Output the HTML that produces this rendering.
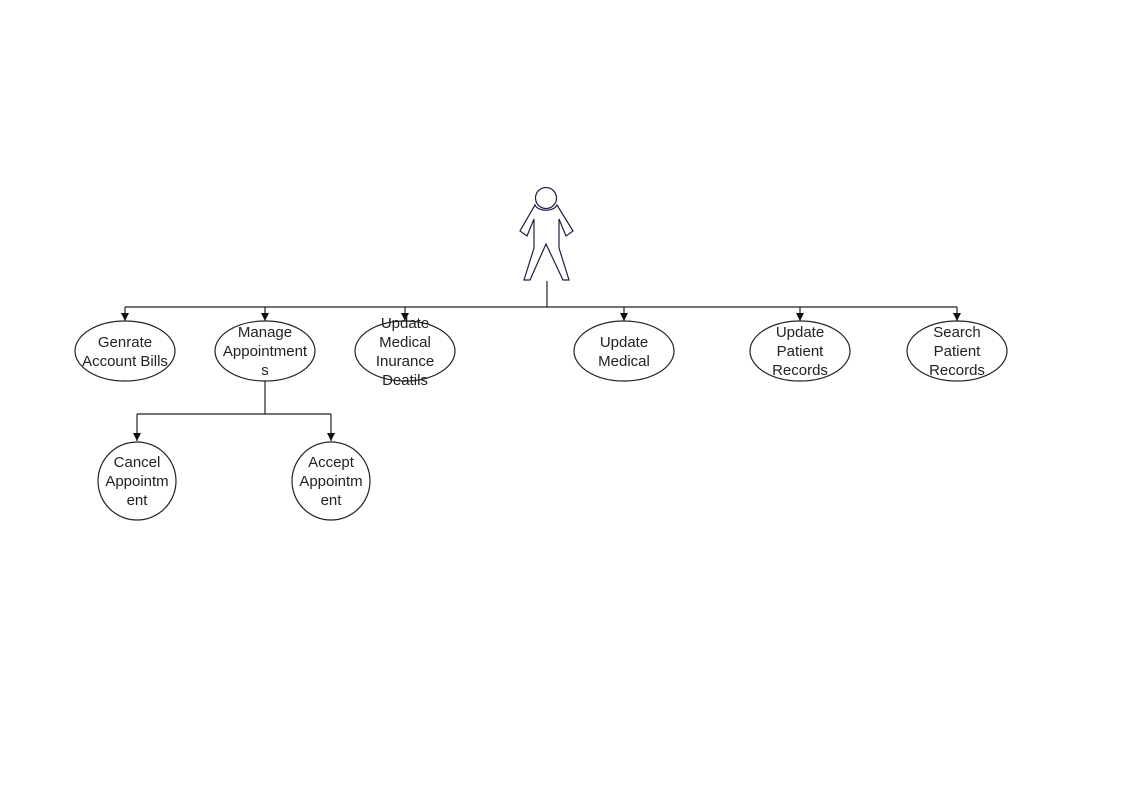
<!DOCTYPE html>
<html><head><meta charset="utf-8"><style>
html,body{margin:0;padding:0;background:#fff;}
svg{display:block;}
text{font-family:"Liberation Sans",Arial,sans-serif;font-size:15px;fill:#222;text-anchor:middle;}
</style></head><body>
<svg width="1123" height="794" viewBox="0 0 1123 794" xmlns="http://www.w3.org/2000/svg">
<defs><marker id="a" markerWidth="8" markerHeight="8" refX="4" refY="8" orient="0" markerUnits="userSpaceOnUse"><path d="M0,0 L8,0 L4,8 z" fill="#111"/></marker></defs>
<g fill="none" stroke="#222" stroke-width="1.2">
<circle cx="546" cy="198" r="10.5" stroke="#1a2040"/>
<path d="M535,205 C538,212 554,212 557,205 L573,231 L566,236 L559,219 L559,248 L569,280 L563,280 L546,244 L530,280 L524,280 L534,248 L534,219 L527,236 L520,231 Z" stroke="#1a2040"/>
<line x1="547" y1="281" x2="547" y2="307"/>
<line x1="125" y1="307" x2="957" y2="307"/>
<line x1="125" y1="307" x2="125" y2="321" marker-end="url(#a)"/>
<line x1="265" y1="307" x2="265" y2="321" marker-end="url(#a)"/>
<line x1="405" y1="307" x2="405" y2="321" marker-end="url(#a)"/>
<line x1="624" y1="307" x2="624" y2="321" marker-end="url(#a)"/>
<line x1="800" y1="307" x2="800" y2="321" marker-end="url(#a)"/>
<line x1="957" y1="307" x2="957" y2="321" marker-end="url(#a)"/>
<line x1="265" y1="381" x2="265" y2="414"/>
<line x1="137" y1="414" x2="331" y2="414"/>
<line x1="137" y1="414" x2="137" y2="441" marker-end="url(#a)"/>
<line x1="331" y1="414" x2="331" y2="441" marker-end="url(#a)"/>
<ellipse cx="125" cy="351" rx="50" ry="30"/>
<ellipse cx="265" cy="351" rx="50" ry="30"/>
<ellipse cx="405" cy="351" rx="50" ry="30"/>
<ellipse cx="624" cy="351" rx="50" ry="30"/>
<ellipse cx="800" cy="351" rx="50" ry="30"/>
<ellipse cx="957" cy="351" rx="50" ry="30"/>
<ellipse cx="137" cy="481" rx="39" ry="39"/>
<ellipse cx="331" cy="481" rx="39" ry="39"/>
</g>
<text x="125" y="347">Genrate</text><text x="125" y="366">Account Bills</text>
<text x="265" y="337">Manage</text><text x="265" y="356">Appointment</text><text x="265" y="375">s</text>
<text x="405" y="328">Update</text><text x="405" y="347">Medical</text><text x="405" y="366">Inurance</text><text x="405" y="385">Deatils</text>
<text x="624" y="347">Update</text><text x="624" y="366">Medical</text>
<text x="800" y="337">Update</text><text x="800" y="356">Patient</text><text x="800" y="375">Records</text>
<text x="957" y="337">Search</text><text x="957" y="356">Patient</text><text x="957" y="375">Records</text>
<text x="137" y="467">Cancel</text><text x="137" y="486">Appointm</text><text x="137" y="505">ent</text>
<text x="331" y="467">Accept</text><text x="331" y="486">Appointm</text><text x="331" y="505">ent</text>
</svg>
</body></html>
